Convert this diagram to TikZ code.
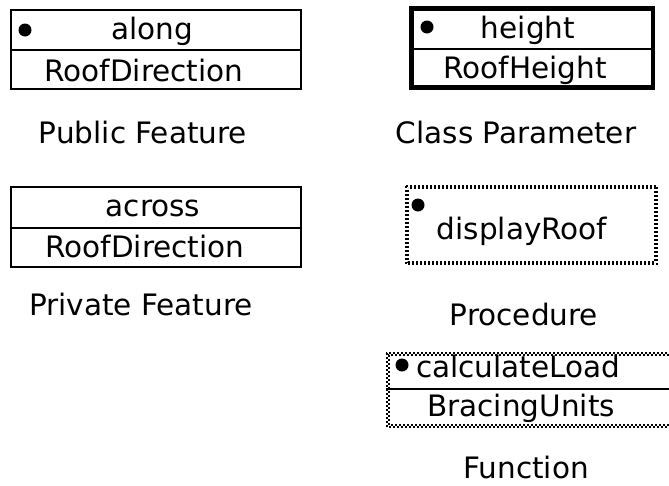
\documentclass[tikz,border=0pt]{standalone}
\usepackage{fontspec}
\setmainfont{DejaVu Sans}
\begin{document}
\begin{tikzpicture}[x=1pt,y=-1pt,
  lbl/.style={font=\fontsize{29.5}{32}\selectfont, inner sep=0pt, anchor=base},
  solidbox/.style={draw=black, line width=2pt},
  thickbox/.style={draw=black, line width=4.5pt},
  divider/.style={draw=black, line width=2pt},
  dot/.style={fill=black},
  checkA/.style={draw=black, line width=2pt, dash pattern=on 2pt off 2pt},
  checkB/.style={draw=black, line width=2pt, dash pattern=on 2pt off 2pt, dash phase=2pt}]
\useasboundingbox (0,0) rectangle (669,485);

% Public feature
\draw[solidbox] (11,10) rectangle (301,89);
\draw[divider] (11,50) -- (301,50);
\fill[dot] (25,30) circle (6.5);
\node[lbl] (along) at (152,39) {along};
\node[lbl] (dirA) at (144,81.5) {RoofDirection};
\node[lbl] (pubcap) at (143,143) {Public Feature};

% Class parameter
\draw[thickbox] (411.5,8.5) rectangle (653,87.5);
\draw[divider] (411.5,48.5) -- (653,48.5);
\fill[dot] (427,27) circle (6.5);
\node[lbl] (height) at (528,38) {height};
\node[lbl] (rhgt) at (525,78.5) {RoofHeight};
\node[lbl] (clscap) at (516,143) {Class Parameter};

% Private feature
\draw[solidbox] (11,187) rectangle (301,267);
\draw[divider] (11,228) -- (301,228);
\node[lbl] (across) at (153,216) {across};
\node[lbl] (dirB) at (145,257.5) {RoofDirection};
\node[lbl] (pricap) at (141,315) {Private Feature};

% Procedure (checkered frame)
\draw[checkA] (406,186) rectangle (657,264);
\draw[checkB] (408,188) rectangle (655,262);
\fill[dot] (418,205) circle (6.5);
\node[lbl] (disp) at (522,239) {displayRoof};
\node[lbl] (proccap) at (524,325) {Procedure};

% Function (checkered frame running past the right edge)
\draw[checkA] (675,353) -- (387,353) -- (387,427) -- (675,427);
\draw[checkB] (675,355) -- (389,355) -- (389,425) -- (675,425);
\draw[divider] (386,389) -- (675,389);
\fill[dot] (402,365) circle (6.5);
\node[lbl, anchor=base west] (calc) at (416,377.5) {calculateLoad};
\node[lbl, anchor=base west] (brace) at (427,416.5) {BracingUnits};
\node[lbl] (funcap) at (526,478) {Function};
\end{tikzpicture}
\end{document}
